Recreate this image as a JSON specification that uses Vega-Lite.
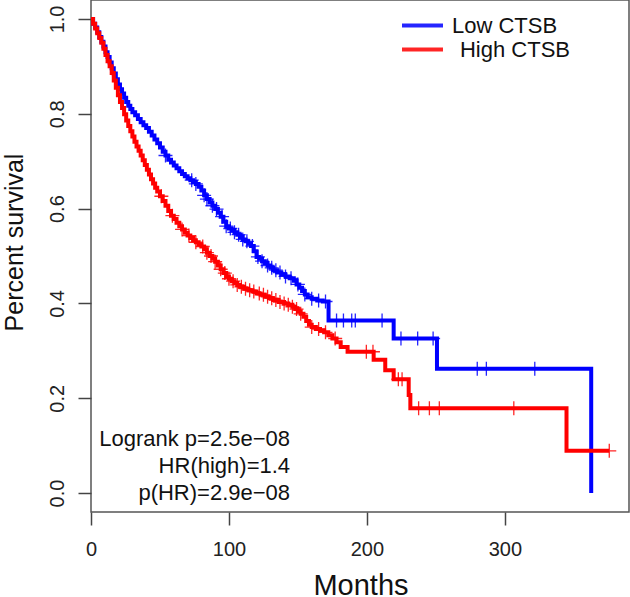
{
"$schema": "https://vega.github.io/schema/vega-lite/v6.json",
"width": 538, "height": 512,
"autosize": "none",
"padding": {"left": 91, "top": 0, "right": 1, "bottom": 85},
"background": "white",
"config": {"view": {"stroke": "#555", "strokeWidth": 1.5}, "font": "Liberation Sans"},
"datasets": {
"curves": [
{"g":"Low CTSB","m":0,"s":1},{"g":"Low CTSB","m":1.5,"s":0.99},{"g":"Low CTSB","m":3,"s":0.982},{"g":"Low CTSB","m":4.5,"s":0.972},{"g":"Low CTSB","m":6,"s":0.962},{"g":"Low CTSB","m":7.5,"s":0.952},{"g":"Low CTSB","m":9,"s":0.942},{"g":"Low CTSB","m":10.5,"s":0.93},{"g":"Low CTSB","m":12,"s":0.92},{"g":"Low CTSB","m":13.5,"s":0.908},{"g":"Low CTSB","m":15,"s":0.896},{"g":"Low CTSB","m":16.5,"s":0.885},{"g":"Low CTSB","m":18,"s":0.873},{"g":"Low CTSB","m":19.5,"s":0.862},{"g":"Low CTSB","m":21,"s":0.852},{"g":"Low CTSB","m":22.5,"s":0.843},{"g":"Low CTSB","m":24,"s":0.834},{"g":"Low CTSB","m":25.5,"s":0.825},{"g":"Low CTSB","m":27,"s":0.817},{"g":"Low CTSB","m":28.5,"s":0.81},{"g":"Low CTSB","m":30,"s":0.803},{"g":"Low CTSB","m":32,"s":0.797},{"g":"Low CTSB","m":34,"s":0.789},{"g":"Low CTSB","m":36,"s":0.782},{"g":"Low CTSB","m":38,"s":0.776},{"g":"Low CTSB","m":40,"s":0.77},{"g":"Low CTSB","m":42,"s":0.762},{"g":"Low CTSB","m":44,"s":0.754},{"g":"Low CTSB","m":46,"s":0.746},{"g":"Low CTSB","m":48,"s":0.738},{"g":"Low CTSB","m":50,"s":0.729},{"g":"Low CTSB","m":52,"s":0.72},{"g":"Low CTSB","m":54,"s":0.712},{"g":"Low CTSB","m":56,"s":0.703},{"g":"Low CTSB","m":58,"s":0.697},{"g":"Low CTSB","m":60,"s":0.691},{"g":"Low CTSB","m":62,"s":0.685},{"g":"Low CTSB","m":64,"s":0.679},{"g":"Low CTSB","m":66,"s":0.673},{"g":"Low CTSB","m":68,"s":0.668},{"g":"Low CTSB","m":70,"s":0.664},{"g":"Low CTSB","m":72,"s":0.66},{"g":"Low CTSB","m":74,"s":0.656},{"g":"Low CTSB","m":76,"s":0.652},{"g":"Low CTSB","m":78,"s":0.646},{"g":"Low CTSB","m":80,"s":0.638},{"g":"Low CTSB","m":82,"s":0.628},{"g":"Low CTSB","m":84,"s":0.62},{"g":"Low CTSB","m":86,"s":0.613},{"g":"Low CTSB","m":88,"s":0.606},{"g":"Low CTSB","m":90,"s":0.599},{"g":"Low CTSB","m":92,"s":0.591},{"g":"Low CTSB","m":94,"s":0.583},{"g":"Low CTSB","m":96,"s":0.572},{"g":"Low CTSB","m":98,"s":0.563},{"g":"Low CTSB","m":100,"s":0.558},{"g":"Low CTSB","m":102,"s":0.555},{"g":"Low CTSB","m":104,"s":0.55},{"g":"Low CTSB","m":106,"s":0.545},{"g":"Low CTSB","m":108,"s":0.54},{"g":"Low CTSB","m":110,"s":0.535},{"g":"Low CTSB","m":112,"s":0.531},{"g":"Low CTSB","m":114,"s":0.526},{"g":"Low CTSB","m":116,"s":0.521},{"g":"Low CTSB","m":118,"s":0.51},{"g":"Low CTSB","m":120,"s":0.498},{"g":"Low CTSB","m":122,"s":0.494},{"g":"Low CTSB","m":124,"s":0.489},{"g":"Low CTSB","m":126,"s":0.485},{"g":"Low CTSB","m":128,"s":0.48},{"g":"Low CTSB","m":130,"s":0.475},{"g":"Low CTSB","m":132,"s":0.47},{"g":"Low CTSB","m":135,"s":0.465},{"g":"Low CTSB","m":138,"s":0.461},{"g":"Low CTSB","m":141,"s":0.457},{"g":"Low CTSB","m":144,"s":0.453},{"g":"Low CTSB","m":147,"s":0.448},{"g":"Low CTSB","m":149,"s":0.44},{"g":"Low CTSB","m":151,"s":0.433},{"g":"Low CTSB","m":153,"s":0.426},{"g":"Low CTSB","m":155,"s":0.419},{"g":"Low CTSB","m":157,"s":0.413},{"g":"Low CTSB","m":160,"s":0.41},{"g":"Low CTSB","m":164,"s":0.406},{"g":"Low CTSB","m":168,"s":0.404},{"g":"Low CTSB","m":172.2,"s":0.364},{"g":"Low CTSB","m":219.4,"s":0.326},{"g":"Low CTSB","m":250.8,"s":0.262},{"g":"Low CTSB","m":362.6,"s":0},
{"g":"\u200b\u00a0\u200aHigh CTSB","m":0,"s":1},{"g":"\u200b\u00a0\u200aHigh CTSB","m":1.5,"s":0.99},{"g":"\u200b\u00a0\u200aHigh CTSB","m":3,"s":0.98},{"g":"\u200b\u00a0\u200aHigh CTSB","m":4.5,"s":0.97},{"g":"\u200b\u00a0\u200aHigh CTSB","m":6,"s":0.96},{"g":"\u200b\u00a0\u200aHigh CTSB","m":7.5,"s":0.95},{"g":"\u200b\u00a0\u200aHigh CTSB","m":9,"s":0.937},{"g":"\u200b\u00a0\u200aHigh CTSB","m":10.5,"s":0.924},{"g":"\u200b\u00a0\u200aHigh CTSB","m":12,"s":0.911},{"g":"\u200b\u00a0\u200aHigh CTSB","m":13.5,"s":0.9},{"g":"\u200b\u00a0\u200aHigh CTSB","m":15,"s":0.886},{"g":"\u200b\u00a0\u200aHigh CTSB","m":16.5,"s":0.87},{"g":"\u200b\u00a0\u200aHigh CTSB","m":18,"s":0.855},{"g":"\u200b\u00a0\u200aHigh CTSB","m":19.5,"s":0.839},{"g":"\u200b\u00a0\u200aHigh CTSB","m":21,"s":0.825},{"g":"\u200b\u00a0\u200aHigh CTSB","m":22.5,"s":0.812},{"g":"\u200b\u00a0\u200aHigh CTSB","m":24,"s":0.799},{"g":"\u200b\u00a0\u200aHigh CTSB","m":25.5,"s":0.786},{"g":"\u200b\u00a0\u200aHigh CTSB","m":27,"s":0.774},{"g":"\u200b\u00a0\u200aHigh CTSB","m":28.5,"s":0.763},{"g":"\u200b\u00a0\u200aHigh CTSB","m":30,"s":0.752},{"g":"\u200b\u00a0\u200aHigh CTSB","m":31.5,"s":0.741},{"g":"\u200b\u00a0\u200aHigh CTSB","m":33,"s":0.731},{"g":"\u200b\u00a0\u200aHigh CTSB","m":34.5,"s":0.722},{"g":"\u200b\u00a0\u200aHigh CTSB","m":36,"s":0.712},{"g":"\u200b\u00a0\u200aHigh CTSB","m":37.5,"s":0.702},{"g":"\u200b\u00a0\u200aHigh CTSB","m":39,"s":0.692},{"g":"\u200b\u00a0\u200aHigh CTSB","m":40.5,"s":0.682},{"g":"\u200b\u00a0\u200aHigh CTSB","m":42,"s":0.672},{"g":"\u200b\u00a0\u200aHigh CTSB","m":43.5,"s":0.662},{"g":"\u200b\u00a0\u200aHigh CTSB","m":45,"s":0.653},{"g":"\u200b\u00a0\u200aHigh CTSB","m":46.5,"s":0.644},{"g":"\u200b\u00a0\u200aHigh CTSB","m":48,"s":0.636},{"g":"\u200b\u00a0\u200aHigh CTSB","m":50,"s":0.626},{"g":"\u200b\u00a0\u200aHigh CTSB","m":52,"s":0.616},{"g":"\u200b\u00a0\u200aHigh CTSB","m":54,"s":0.606},{"g":"\u200b\u00a0\u200aHigh CTSB","m":56,"s":0.595},{"g":"\u200b\u00a0\u200aHigh CTSB","m":58,"s":0.585},{"g":"\u200b\u00a0\u200aHigh CTSB","m":60,"s":0.578},{"g":"\u200b\u00a0\u200aHigh CTSB","m":62,"s":0.57},{"g":"\u200b\u00a0\u200aHigh CTSB","m":64,"s":0.563},{"g":"\u200b\u00a0\u200aHigh CTSB","m":66,"s":0.556},{"g":"\u200b\u00a0\u200aHigh CTSB","m":68,"s":0.549},{"g":"\u200b\u00a0\u200aHigh CTSB","m":70,"s":0.543},{"g":"\u200b\u00a0\u200aHigh CTSB","m":72,"s":0.538},{"g":"\u200b\u00a0\u200aHigh CTSB","m":74,"s":0.533},{"g":"\u200b\u00a0\u200aHigh CTSB","m":76,"s":0.529},{"g":"\u200b\u00a0\u200aHigh CTSB","m":78,"s":0.524},{"g":"\u200b\u00a0\u200aHigh CTSB","m":80,"s":0.52},{"g":"\u200b\u00a0\u200aHigh CTSB","m":82,"s":0.514},{"g":"\u200b\u00a0\u200aHigh CTSB","m":84,"s":0.507},{"g":"\u200b\u00a0\u200aHigh CTSB","m":86,"s":0.5},{"g":"\u200b\u00a0\u200aHigh CTSB","m":88,"s":0.494},{"g":"\u200b\u00a0\u200aHigh CTSB","m":90,"s":0.488},{"g":"\u200b\u00a0\u200aHigh CTSB","m":92,"s":0.48},{"g":"\u200b\u00a0\u200aHigh CTSB","m":94,"s":0.472},{"g":"\u200b\u00a0\u200aHigh CTSB","m":96,"s":0.464},{"g":"\u200b\u00a0\u200aHigh CTSB","m":98,"s":0.457},{"g":"\u200b\u00a0\u200aHigh CTSB","m":100,"s":0.452},{"g":"\u200b\u00a0\u200aHigh CTSB","m":102,"s":0.447},{"g":"\u200b\u00a0\u200aHigh CTSB","m":104,"s":0.443},{"g":"\u200b\u00a0\u200aHigh CTSB","m":106,"s":0.439},{"g":"\u200b\u00a0\u200aHigh CTSB","m":108,"s":0.435},{"g":"\u200b\u00a0\u200aHigh CTSB","m":111,"s":0.431},{"g":"\u200b\u00a0\u200aHigh CTSB","m":114,"s":0.428},{"g":"\u200b\u00a0\u200aHigh CTSB","m":117,"s":0.425},{"g":"\u200b\u00a0\u200aHigh CTSB","m":120,"s":0.421},{"g":"\u200b\u00a0\u200aHigh CTSB","m":123,"s":0.418},{"g":"\u200b\u00a0\u200aHigh CTSB","m":126,"s":0.414},{"g":"\u200b\u00a0\u200aHigh CTSB","m":129,"s":0.411},{"g":"\u200b\u00a0\u200aHigh CTSB","m":132,"s":0.407},{"g":"\u200b\u00a0\u200aHigh CTSB","m":136,"s":0.403},{"g":"\u200b\u00a0\u200aHigh CTSB","m":140,"s":0.4},{"g":"\u200b\u00a0\u200aHigh CTSB","m":143,"s":0.397},{"g":"\u200b\u00a0\u200aHigh CTSB","m":146,"s":0.393},{"g":"\u200b\u00a0\u200aHigh CTSB","m":148,"s":0.388},{"g":"\u200b\u00a0\u200aHigh CTSB","m":150,"s":0.383},{"g":"\u200b\u00a0\u200aHigh CTSB","m":152,"s":0.378},{"g":"\u200b\u00a0\u200aHigh CTSB","m":154,"s":0.372},{"g":"\u200b\u00a0\u200aHigh CTSB","m":156,"s":0.363},{"g":"\u200b\u00a0\u200aHigh CTSB","m":158,"s":0.355},{"g":"\u200b\u00a0\u200aHigh CTSB","m":160,"s":0.35},{"g":"\u200b\u00a0\u200aHigh CTSB","m":163,"s":0.346},{"g":"\u200b\u00a0\u200aHigh CTSB","m":166,"s":0.343},{"g":"\u200b\u00a0\u200aHigh CTSB","m":169,"s":0.339},{"g":"\u200b\u00a0\u200aHigh CTSB","m":172,"s":0.333},{"g":"\u200b\u00a0\u200aHigh CTSB","m":175,"s":0.326},{"g":"\u200b\u00a0\u200aHigh CTSB","m":178,"s":0.318},{"g":"\u200b\u00a0\u200aHigh CTSB","m":181,"s":0.308},{"g":"\u200b\u00a0\u200aHigh CTSB","m":186,"s":0.298},{"g":"\u200b\u00a0\u200aHigh CTSB","m":204.9,"s":0.281},{"g":"\u200b\u00a0\u200aHigh CTSB","m":213.3,"s":0.259},{"g":"\u200b\u00a0\u200aHigh CTSB","m":219.4,"s":0.24},{"g":"\u200b\u00a0\u200aHigh CTSB","m":230.3,"s":0.207},{"g":"\u200b\u00a0\u200aHigh CTSB","m":231.5,"s":0.179},{"g":"\u200b\u00a0\u200aHigh CTSB","m":344.7,"s":0.089},{"g":"\u200b\u00a0\u200aHigh CTSB","m":375.7,"s":0.089}
],
"censors": [
{"g":"Low CTSB","m":54,"s":0.712},{"g":"Low CTSB","m":73,"s":0.66},{"g":"Low CTSB","m":76,"s":0.652},{"g":"Low CTSB","m":82,"s":0.628},{"g":"Low CTSB","m":84,"s":0.62},{"g":"Low CTSB","m":88,"s":0.606},{"g":"Low CTSB","m":91,"s":0.599},{"g":"Low CTSB","m":95,"s":0.583},{"g":"Low CTSB","m":98,"s":0.563},{"g":"Low CTSB","m":101,"s":0.558},{"g":"Low CTSB","m":104,"s":0.55},{"g":"Low CTSB","m":107,"s":0.545},{"g":"Low CTSB","m":110,"s":0.535},{"g":"Low CTSB","m":113,"s":0.531},{"g":"Low CTSB","m":117,"s":0.521},{"g":"Low CTSB","m":121,"s":0.498},{"g":"Low CTSB","m":124,"s":0.489},{"g":"Low CTSB","m":128,"s":0.48},{"g":"Low CTSB","m":131,"s":0.475},{"g":"Low CTSB","m":134,"s":0.47},{"g":"Low CTSB","m":137,"s":0.465},{"g":"Low CTSB","m":141,"s":0.457},{"g":"Low CTSB","m":145,"s":0.453},{"g":"Low CTSB","m":150,"s":0.44},{"g":"Low CTSB","m":155,"s":0.419},{"g":"Low CTSB","m":160,"s":0.41},{"g":"Low CTSB","m":165,"s":0.406},{"g":"Low CTSB","m":170,"s":0.404},{"g":"Low CTSB","m":178,"s":0.364},{"g":"Low CTSB","m":183,"s":0.364},{"g":"Low CTSB","m":189,"s":0.364},{"g":"Low CTSB","m":191.6,"s":0.364},{"g":"Low CTSB","m":211,"s":0.364},{"g":"Low CTSB","m":224.7,"s":0.326},{"g":"Low CTSB","m":236.8,"s":0.326},{"g":"Low CTSB","m":248,"s":0.326},{"g":"Low CTSB","m":280,"s":0.262},{"g":"Low CTSB","m":286.6,"s":0.262},{"g":"Low CTSB","m":321.7,"s":0.262},
{"g":"\u200b\u00a0\u200aHigh CTSB","m":51,"s":0.626},{"g":"\u200b\u00a0\u200aHigh CTSB","m":59,"s":0.585},{"g":"\u200b\u00a0\u200aHigh CTSB","m":66,"s":0.556},{"g":"\u200b\u00a0\u200aHigh CTSB","m":71,"s":0.543},{"g":"\u200b\u00a0\u200aHigh CTSB","m":76,"s":0.529},{"g":"\u200b\u00a0\u200aHigh CTSB","m":81,"s":0.52},{"g":"\u200b\u00a0\u200aHigh CTSB","m":84,"s":0.507},{"g":"\u200b\u00a0\u200aHigh CTSB","m":87,"s":0.5},{"g":"\u200b\u00a0\u200aHigh CTSB","m":90,"s":0.488},{"g":"\u200b\u00a0\u200aHigh CTSB","m":94,"s":0.472},{"g":"\u200b\u00a0\u200aHigh CTSB","m":97,"s":0.464},{"g":"\u200b\u00a0\u200aHigh CTSB","m":100,"s":0.452},{"g":"\u200b\u00a0\u200aHigh CTSB","m":103,"s":0.447},{"g":"\u200b\u00a0\u200aHigh CTSB","m":106,"s":0.439},{"g":"\u200b\u00a0\u200aHigh CTSB","m":109,"s":0.435},{"g":"\u200b\u00a0\u200aHigh CTSB","m":112,"s":0.431},{"g":"\u200b\u00a0\u200aHigh CTSB","m":115,"s":0.428},{"g":"\u200b\u00a0\u200aHigh CTSB","m":118,"s":0.425},{"g":"\u200b\u00a0\u200aHigh CTSB","m":122,"s":0.421},{"g":"\u200b\u00a0\u200aHigh CTSB","m":125,"s":0.418},{"g":"\u200b\u00a0\u200aHigh CTSB","m":128,"s":0.414},{"g":"\u200b\u00a0\u200aHigh CTSB","m":131,"s":0.411},{"g":"\u200b\u00a0\u200aHigh CTSB","m":134,"s":0.407},{"g":"\u200b\u00a0\u200aHigh CTSB","m":137,"s":0.403},{"g":"\u200b\u00a0\u200aHigh CTSB","m":140,"s":0.4},{"g":"\u200b\u00a0\u200aHigh CTSB","m":143,"s":0.397},{"g":"\u200b\u00a0\u200aHigh CTSB","m":146,"s":0.393},{"g":"\u200b\u00a0\u200aHigh CTSB","m":149,"s":0.388},{"g":"\u200b\u00a0\u200aHigh CTSB","m":152,"s":0.378},{"g":"\u200b\u00a0\u200aHigh CTSB","m":160,"s":0.35},{"g":"\u200b\u00a0\u200aHigh CTSB","m":165,"s":0.346},{"g":"\u200b\u00a0\u200aHigh CTSB","m":170,"s":0.339},{"g":"\u200b\u00a0\u200aHigh CTSB","m":177,"s":0.326},{"g":"\u200b\u00a0\u200aHigh CTSB","m":199.6,"s":0.298},{"g":"\u200b\u00a0\u200aHigh CTSB","m":204.4,"s":0.298},{"g":"\u200b\u00a0\u200aHigh CTSB","m":222.8,"s":0.24},{"g":"\u200b\u00a0\u200aHigh CTSB","m":225.5,"s":0.24},{"g":"\u200b\u00a0\u200aHigh CTSB","m":237.5,"s":0.179},{"g":"\u200b\u00a0\u200aHigh CTSB","m":245.3,"s":0.179},{"g":"\u200b\u00a0\u200aHigh CTSB","m":252.5,"s":0.179},{"g":"\u200b\u00a0\u200aHigh CTSB","m":306.5,"s":0.179},{"g":"\u200b\u00a0\u200aHigh CTSB","m":375.7,"s":0.089}
],
"notes": [{"t": "Logrank p=2.5e\u221208\nHR(high)=1.4\np(HR)=2.9e\u221208"}]
},
"layer": [
{"data": {"name": "curves"}, "transform": [{"filter": "datum.g === 'Low CTSB'"}], "mark": {"type": "line", "interpolate": "step-after", "strokeWidth": 4},
 "encoding": {
 "x": {"field": "m", "type": "quantitative", "scale": {"domain": [0, 390], "nice": false, "zero": false},
  "axis": {"values": [0, 100, 200, 300], "title": "Months", "domain": false, "grid": false, "tickSize": 13, "tickColor": "#444", "tickWidth": 1.5, "labelFontSize": 20, "labelColor": "#222", "labelFlush": false, "labelOverlap": false, "labelBaseline": "alphabetic", "labelPadding": 30, "titleFontSize": 29, "titleFontWeight": "normal", "titleColor": "#111", "titleX": 269.5, "titleY": 82, "titleAlign": "center", "titleBaseline": "alphabetic"}},
 "y": {"field": "s", "type": "quantitative", "scale": {"domain": [-0.04, 1.04], "nice": false, "zero": false},
  "axis": {"values": [0, 0.2, 0.4, 0.6, 0.8, 1], "format": ".1f", "title": "Percent survival", "domain": false, "grid": false, "tickSize": 13, "tickColor": "#444", "tickWidth": 1.5, "labelFontSize": 20, "labelColor": "#222", "labelFlush": false, "labelOverlap": false, "labelAngle": -90, "labelAlign": "center", "labelBaseline": "alphabetic", "labelPadding": 15, "titleFontSize": 25, "titleFontWeight": "normal", "titleColor": "#111", "titleAngle": -90, "titleX": -69, "titleY": 242, "titleAlign": "center", "titleBaseline": "alphabetic"}},
 "color": {"field": "g", "type": "nominal", "scale": {"domain": ["Low CTSB", "\u200b\u00a0\u200aHigh CTSB"], "range": ["#0000FF", "#FF0000"]},
  "legend": {"orient": "none", "legendX": 319, "legendY": 13, "title": null, "symbolType": "M-2,0H2", "symbolSize": 420, "symbolStrokeWidth": 4, "labelFontSize": 22, "labelOffset": 17, "rowPadding": -2.4, "padding": 0, "labelColor": "#111", "labelFont": "Liberation Sans"}}
 }},
{"data": {"name": "curves"}, "transform": [{"filter": "datum.g !== 'Low CTSB'"}], "mark": {"type": "line", "interpolate": "step-after", "strokeWidth": 4},
 "encoding": {"x": {"field": "m", "type": "quantitative"}, "y": {"field": "s", "type": "quantitative"}, "color": {"field": "g", "type": "nominal"}}},
{"data": {"name": "censors"}, "mark": {"type": "point", "shape": "M-1,0H1M0,-1V1", "filled": false, "size": 196, "strokeWidth": 1.3, "opacity": 0.85},
 "encoding": {"x": {"field": "m", "type": "quantitative"}, "y": {"field": "s", "type": "quantitative"}, "color": {"field": "g", "type": "nominal"}}},
{"data": {"name": "notes"}, "mark": {"type": "text", "align": "right", "baseline": "alphabetic", "fontSize": 22, "lineHeight": 27, "lineBreak": "\n", "font": "Liberation Sans", "color": "#111"},
 "encoding": {"x": {"datum": 144.3, "type": "quantitative"}, "y": {"datum": 0.099, "type": "quantitative"}, "text": {"field": "t"}}}
]
}
